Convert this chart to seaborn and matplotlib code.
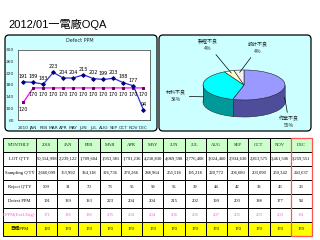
import numpy as np
import pandas as pd
import matplotlib
matplotlib.use("Agg")
import matplotlib.pyplot as plt
import seaborn as sns
from matplotlib.patches import FancyBboxPatch, Rectangle

# ---------------- data ----------------
title = "2012/01一電廠OQA"
chart_title = "Defect PPM"
months = ["2010", "JAN", "FEB", "MAR", "APR", "MAY", "JUN", "JUL", "AUG", "SEP", "OCT", "NOV", "DEC"]
defect_ppm = [191, 189, 183, 223, 204, 204, 215, 202, 199, 203, 188, 177, 94]
target_ppm = [120, 170, 170, 170, 170, 170, 170, 170, 170, 170, 170, 170, 170]
lot_qty = ["50,314,998", "2,239,122", "1,709,604", "1,953,381", "1,791,236", "4,218,830",
           "4,069,598", "2,776,408", "3,024,460", "2,934,630", "2,813,575", "3,461,506", "3,259,551"]
sampling_qty = ["2,660,099", "163,992", "384,118", "326,736", "270,266", "288,964",
                "255,518", "195,218", "220,772", "206,680", "203,090", "259,342", "243,637"]
reject_qty = [509, 31, 70, 73, 55, 59, 55, 39, 44, 42, 38, 46, 23]
dppm_excl = [171, 186, 186, 205, 204, 204, 206, 206, 207, 205, 203, 203, 131]
row_labels = ["MONTHLY", "LOT Q'TY", "Sampling Q'TY", "Reject Q'TY", "Defect PPM",
              "DPPM(Excl.Eng)", "目標PPM"]
y_ticks = [60, 100, 140, 180, 220, 260, 300]
pie_labels = ["作業不良", "材料不良", "製程不良", "設計不良"]
pie_values = [55, 38, 4, 4]

# ---------------- figure ----------------
W, H = 320, 240
sns.set_style("white")
plt.rcParams["font.family"] = ["DejaVu Sans", "Noto Sans CJK TC"]
fig = plt.figure(figsize=(3.2, 2.4), dpi=100)
fig.patch.set_facecolor("white")

def fx(x):
    return x / W

def fy(y):
    return 1 - y / H

# background layer in pixel coordinates
bg = fig.add_axes([0, 0, 1, 1], zorder=-10)
bg.set_xlim(0, W)
bg.set_ylim(H, 0)
bg.axis("off")

cjk = ["Liberation Sans", "Noto Sans CJK TC"]
bg.text(8, 24, title, fontsize=8, family=cjk, ha="left", va="center", color="black",
        fontweight="medium")

for (x0, y0, x1, y1) in [(5, 35, 157, 131), (159, 35, 311, 131)]:
    bg.add_patch(FancyBboxPatch((x0, y0), x1 - x0, y1 - y0,
                                boxstyle="round,pad=0,rounding_size=4",
                                fc="#ccffff", ec="black", lw=0.9))
bg.text(80, 41, chart_title, fontsize=3.5, ha="center", va="center")

# ---------------- line chart ----------------
ax = fig.add_axes([fx(17.7), fy(120), (150 - 17.7) / W, 70 / H], zorder=1)
df = pd.DataFrame({"idx": np.arange(len(months)), "month": months,
                   "defect": defect_ppm, "target": target_ppm})
sns.lineplot(data=df, x="idx", y="target", ax=ax, color="#ff00ff", lw=0.9,
             marker="s", markersize=1.6, markerfacecolor="#660066", markeredgecolor="#660066")
sns.lineplot(data=df, x="idx", y="defect", ax=ax, color="#3333cc", lw=0.9,
             marker="D", markersize=1.9, markerfacecolor="#000080", markeredgecolor="#000080")
ax.set_facecolor("white")
ax.set_xlim(-0.55, len(months) - 0.35)
ax.set_ylim(y_ticks[0], y_ticks[-1])
ax.set_yticks(y_ticks)
ax.set_yticklabels([str(t) for t in y_ticks])
ax.set_xticks(df["idx"])
ax.set_xticklabels(months)
ax.set_xlabel("")
ax.set_ylabel("")
ax.tick_params(axis="both", labelsize=3.2, length=1.5, width=0.4, pad=1)
ax.tick_params(axis="x", pad=3)
for s in ax.spines.values():
    s.set_color("#555555")
    s.set_linewidth(0.6)
for i, v in enumerate(defect_ppm):
    ax.annotate(str(v), (i, v), xytext=(0, 2.3), textcoords="offset points",
                ha="center", va="bottom", fontsize=3.5, color="black")
for i, v in enumerate(target_ppm):
    ax.annotate(str(v), (i, v), xytext=(0, -3.0), textcoords="offset points",
                ha="center", va="top", fontsize=3.5, color="black")

# ---------------- pie chart (pseudo 3D) ----------------
cx, cy, rx, ry, depth_px = 244, 85, 41, 15, 17
pax = fig.add_axes([fx(159), fy(131), 152 / W, 96 / H], zorder=1)
pax.patch.set_visible(False)
top_colors = ["#9999ff", "#00ffff", "#ffffcc", "#f2f2f2"]
side_colors = ["#4d4d99", "#009999", "#aaaa77", "#aaaaaa"]
depth = depth_px / ry
layers = np.linspace(depth, 0, 30)[:-1]
for k, d in enumerate(layers):
    pax.pie(pie_values, colors=side_colors, startangle=90, counterclock=False,
            center=(0, -d), radius=1,
            wedgeprops=dict(lw=0.4 if k == 0 else 0, ec="#222222"))
pax.pie(pie_values, colors=top_colors, startangle=90, counterclock=False,
        center=(0, 0), radius=1, wedgeprops=dict(lw=0.4, ec="#222222"))
fr = np.array(pie_values) / np.sum(pie_values)
cum = np.concatenate([[0], np.cumsum(fr)])
bounds = np.deg2rad(90 - 360 * cum)
for b in list(bounds) + [np.pi, 0.0]:
    if np.sin(b) <= 0.01:
        pax.plot([np.cos(b), np.cos(b)], [np.sin(b), np.sin(b) - depth], color="#222222", lw=0.4)
pax.set_aspect("auto")
pax.set_xlim((159 - cx) / rx, (311 - cx) / rx)
pax.set_ylim((cy - 131) / ry, (cy - 35) / ry)
pax.axis("off")

mids = np.deg2rad(90 - 360 * (cum[:-1] + fr / 2))
label_pos_px = [(289, 122), (176, 96), (208, 45), (258, 48)]
for lab, v, m, (px, py) in zip(pie_labels, pie_values, mids, label_pos_px):
    tx, ty = np.cos(m), np.sin(m)
    if ty < 0:
        ty = ty - depth * 0.6
    else:
        tx, ty = tx * 0.85, ty * 0.85
    pax.annotate(f"{lab}\n{v}%", xy=(tx, ty), xytext=((px - cx) / rx, (cy - py) / ry),
                 ha="center", va="center", fontsize=3.6, family=["Noto Sans CJK TC"],
                 linespacing=1.6,
                 arrowprops=dict(arrowstyle="-", lw=0.5, color="black", shrinkA=0, shrinkB=0))

# ---------------- table ----------------
tax = fig.add_axes([0, 0, 1, 1], zorder=2)
tax.patch.set_visible(False)
tax.axis("off")
tax.set_xlim(0, 1)
tax.set_ylim(0, 1)
rows = [
    [row_labels[0]] + months,
    [row_labels[1]] + lot_qty,
    [row_labels[2]] + sampling_qty,
    [row_labels[3]] + [str(v) for v in reject_qty],
    [row_labels[4]] + [str(v) for v in defect_ppm],
    [row_labels[5]] + [str(v) for v in dppm_excl],
    [row_labels[6]] + [str(v) for v in target_ppm],
]
ncol = len(rows[0])
row_bg = ["#ccffcc", "white", "white", "white", "white", "white", "#ffff00"]
row_fg = ["#003300", "black", "black", "black", "black", "#ff55dd", "black"]
colours = [[row_bg[r]] * ncol for r in range(len(rows))]
t_left, t_right, t_top, t_bot = 3, 312, 138, 236
first_w = 33 / (t_right - t_left)
other_w = (1 - first_w) / (ncol - 1)
tbl = tax.table(cellText=rows, cellColours=colours, cellLoc="center",
                colWidths=[first_w] + [other_w] * (ncol - 1),
                bbox=[fx(t_left), fy(t_bot), (t_right - t_left) / W, (t_bot - t_top) / H])
tbl.auto_set_font_size(False)
tbl.set_fontsize(3.3)
for (r, c), cell in tbl.get_celld().items():
    cell.set_edgecolor("black")
    cell.set_linewidth(0.7)
    txt = cell.get_text()
    txt.set_color(row_fg[r])
    txt.set_fontfamily(["Liberation Serif", "Noto Sans CJK TC"])
    if c == 0 and r > 0:
        cell._loc = "left"
        cell.PAD = 0.04
dec_x0 = t_left + (first_w + other_w * (ncol - 2)) * (t_right - t_left)
tax.add_patch(Rectangle((fx(dec_x0), fy(t_bot)), (t_right - dec_x0) / W, (t_bot - t_top) / H,
                        fill=False, ec="#ff5555", lw=0.9, zorder=5))

fig.savefig("out.png", dpi=100, facecolor="white")
